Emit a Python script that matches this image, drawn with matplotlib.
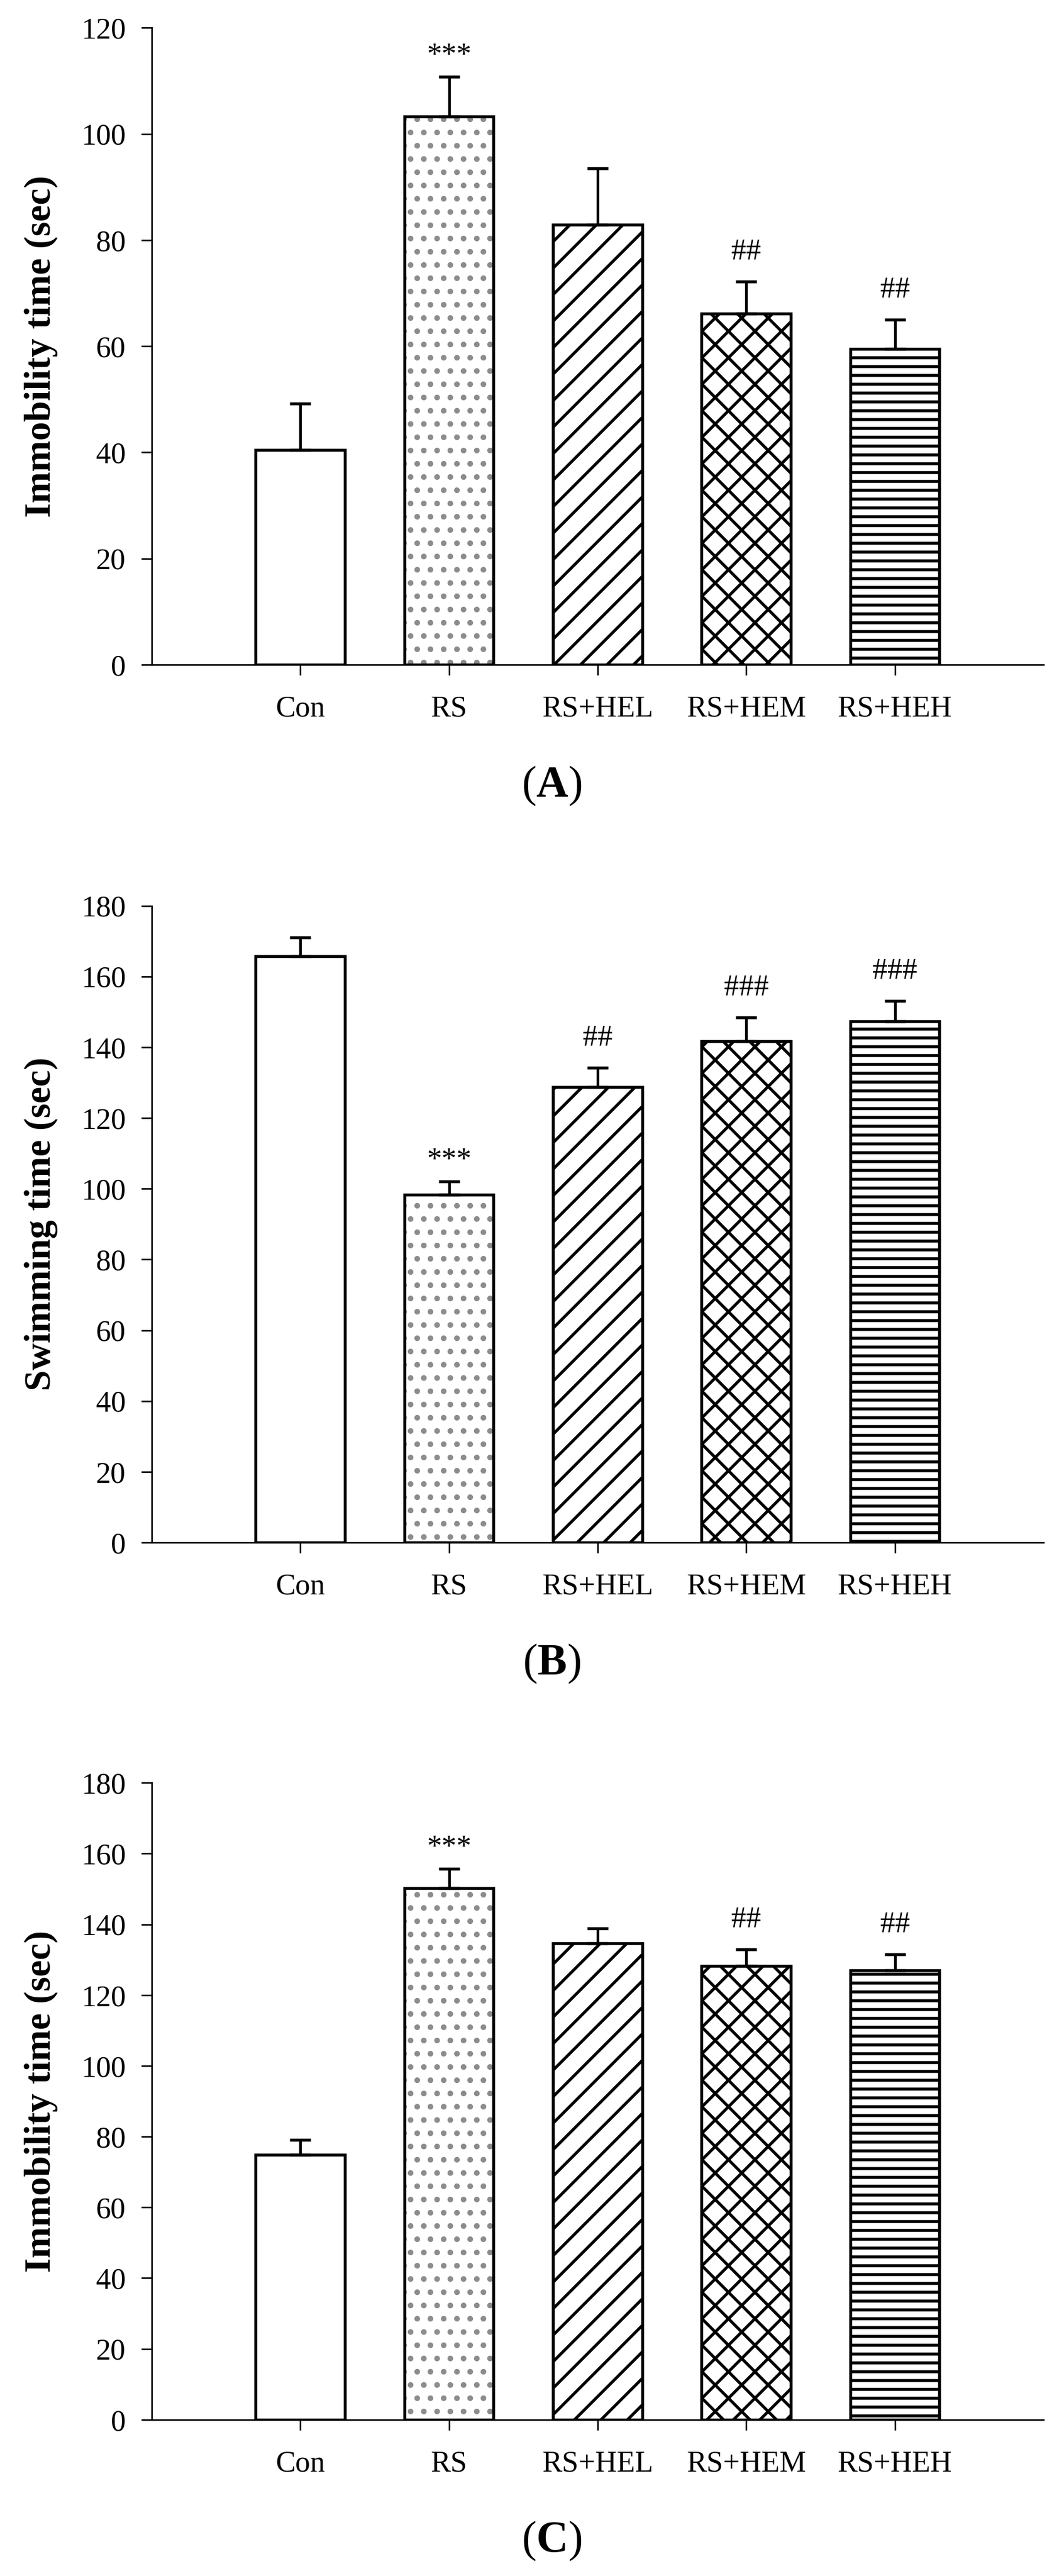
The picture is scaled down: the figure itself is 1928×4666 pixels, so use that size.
import matplotlib
matplotlib.use('Agg')
import matplotlib.pyplot as plt
import numpy as np

# groups and look of each bar
groups = ['Con', 'RS', 'RS+HEL', 'RS+HEM', 'RS+HEH']
hatches = ['', '..', '//', 'xx', '---']
hatch_colors = ['black', '#8c8c8c', 'black', 'black', 'black']

# (A) immobility time
mean_a = [40.5, 103.3, 82.9, 66.1, 59.5]
sem_a = [8.7, 7.5, 10.6, 6.1, 5.5]
sig_a = ['', '***', '', '##', '##']

# (B) swimming time
mean_b = [165.7, 98.3, 128.7, 141.7, 147.3]
sem_b = [5.3, 3.7, 5.5, 6.7, 5.8]
sig_b = ['', '***', '##', '###', '###']

# (C) immobility time
mean_c = [74.9, 150.3, 134.7, 128.2, 127.0]
sem_c = [4.2, 5.4, 4.2, 4.8, 4.5]
sig_c = ['', '***', '', '##', '##']

DPI = 288
plt.rcParams['font.family'] = 'Liberation Serif'
plt.rcParams['mathtext.fontset'] = 'custom'
plt.rcParams['mathtext.rm'] = 'Liberation Serif'
plt.rcParams['mathtext.bf'] = 'Liberation Serif:bold'
plt.rcParams['hatch.linewidth'] = 1.35
plt.rcParams['axes.linewidth'] = 0.7

fig = plt.figure(figsize=(1928 / DPI, 4666 / DPI), dpi=DPI)
fig.patch.set_facecolor('white')

panels = [
    (mean_a, sem_a, sig_a, 'Immobility time (sec)', 120, 'A', 0.7420),
    (mean_b, sem_b, sig_b, 'Swimming time (sec)', 180, 'B', 0.4012),
    (mean_c, sem_c, sig_c, 'Immobility time (sec)', 180, 'C', 0.0607),
]

x = np.arange(1, len(groups) + 1)

for means, sems, sigs, ylab, ytop, tag, bottom in panels:
    ax = fig.add_axes([0.1426, bottom, 0.8382, 0.2472])
    bars = ax.bar(x, means, width=0.6, color='white', linewidth=0,
                  edgecolor=hatch_colors, zorder=2)
    for b, h in zip(bars, hatches):
        if h:
            b.set_hatch(h)
    ax.bar(x, means, width=0.6, fill=False, edgecolor='black',
           linewidth=1.35, zorder=3)
    ax.errorbar(x, means, yerr=[np.zeros(len(sems)), sems], fmt='none',
                ecolor='black', elinewidth=1.2, capsize=4.75, capthick=1.35,
                zorder=4)
    for xi, m, s, lab in zip(x, means, sems, sigs):
        if lab:
            off = 6 if lab.startswith('*') else 10
            ax.annotate(lab, (xi, m + s), xytext=(0, off),
                        textcoords='offset points', ha='center',
                        va='baseline', fontsize=13.5)

    ax.set_xlim(0, 6)
    ax.set_ylim(0, ytop)
    ax.set_yticks(np.arange(0, ytop + 1, 20))
    ax.set_xticks(x)
    ax.set_xticklabels(groups)
    ax.spines['top'].set_visible(False)
    ax.spines['right'].set_visible(False)
    ax.tick_params(axis='both', direction='out', length=4.75, width=0.7,
                   labelsize=13.5)
    ax.tick_params(axis='x', pad=9)
    ax.tick_params(axis='y', pad=7)
    ax.set_ylabel(ylab, fontsize=17, fontweight='bold')
    ax.yaxis.set_label_coords(-0.105, 0.5)

    fig.text(1000 / 1928, bottom - 220 / 4666,
             r'$\mathrm{(}\mathbf{%s}\mathrm{)}$' % tag,
             ha='center', va='center', fontsize=20)

fig.savefig('out.png', dpi=DPI, facecolor='white')
